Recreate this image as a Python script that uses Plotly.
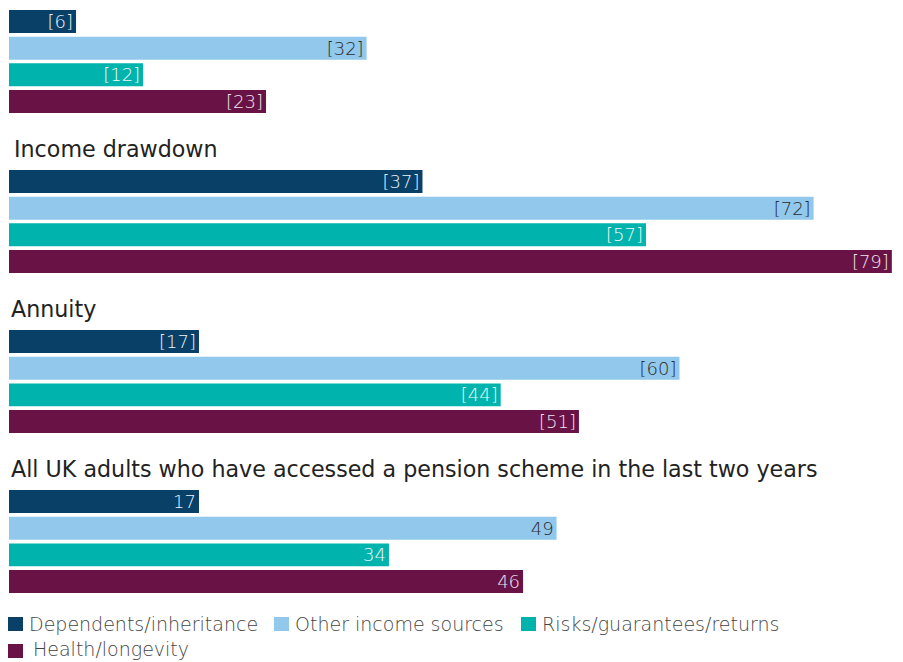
import plotly.graph_objects as go

# Group headings, top to bottom (the first group's heading sits above the visible area)
groups = ["", "Income drawdown", "Annuity",
          "All UK adults who have accessed a pension scheme in the last two years"]

series_names = ["Dependents/inheritance", "Other income sources",
                "Risks/guarantees/returns", "Health/longevity"]

# Values per series, one entry per group (top to bottom)
dependents = [6, 37, 17, 17]
other_income = [32, 72, 60, 49]
risks = [12, 57, 44, 34]
health = [23, 79, 51, 46]

# Low-base groups show bracketed labels
low_base = [True, True, True, False]

colors = ["#084068", "#91c8ec", "#00b4ad", "#681246"]
text_colors = ["#eef3f7", "#2a2a2a", "#eef9f8", "#f0e6ec"]

FONT = "DejaVu Sans"
ROW_STEP = 6          # rows per group: 4 bars + heading/gap
BAR_W = 0.86

W, H = 903, 662
ML, MR, MT, MB = 9, 0, 0, 57
PW, PH = W - ML - MR, H - MT - MB


def px_x(x):
    return (x - ML) / PW


def px_y(y):
    return 1 - (y - MT) / PH


fig = go.Figure()
for j, (name, vals) in enumerate(zip(series_names,
                                     [dependents, other_income, risks, health])):
    ys = [ROW_STEP * k + j for k in range(len(groups))]
    labels = [f"[{v}]" if lb else f"{v}" for v, lb in zip(vals, low_base)]
    fig.add_trace(go.Bar(
        x=vals, y=ys, orientation="h", name=name,
        marker=dict(color=colors[j], line=dict(width=0)),
        width=BAR_W,
        text=labels, textposition="inside", insidetextanchor="end",
        textangle=0, constraintext="none",
        insidetextfont=dict(family=FONT, size=18, weight=200, color=text_colors[j]),
        hoverinfo="skip", showlegend=False,
    ))

# Group headings
for k, title in enumerate(groups):
    if not title:
        continue
    fig.add_annotation(
        text=title, xref="paper", x=0, xanchor="left",
        xshift=3 if k == 1 else 0,
        y=ROW_STEP * k - 1.22, yref="y", yanchor="middle",
        showarrow=False, font=dict(family=FONT, size=22.2, color="#222222"),
    )

# Legend: colour key squares with labels, wrapped over two rows
legend_items = [(0, 8, 617), (1, 274, 617), (2, 521, 617), (3, 8, 644)]
for j, x0, y0 in legend_items:
    fig.add_shape(type="rect", xref="paper", yref="paper",
                  x0=px_x(x0), x1=px_x(x0 + 15), y0=px_y(y0 + 14), y1=px_y(y0),
                  fillcolor=colors[j], line=dict(width=0))
    fig.add_annotation(
        text=series_names[j], xref="paper", yref="paper",
        x=px_x(x0 + 19 + (4 if j == 3 else 0)), xanchor="left",
        y=px_y(min(y0 + 20, H)), yanchor="bottom", showarrow=False,
        font=dict(family=FONT, size=19, weight=200, color="#444444"),
    )

fig.update_layout(
    width=W, height=H,
    margin=dict(l=ML, r=MR, t=MT, b=MB),
    barmode="overlay",
    plot_bgcolor="white", paper_bgcolor="white",
    xaxis=dict(range=[0, 80], visible=False, fixedrange=True),
    yaxis=dict(range=[21.88, -0.806], visible=False, fixedrange=True),
    showlegend=False,
)

fig.write_html("out.html")
